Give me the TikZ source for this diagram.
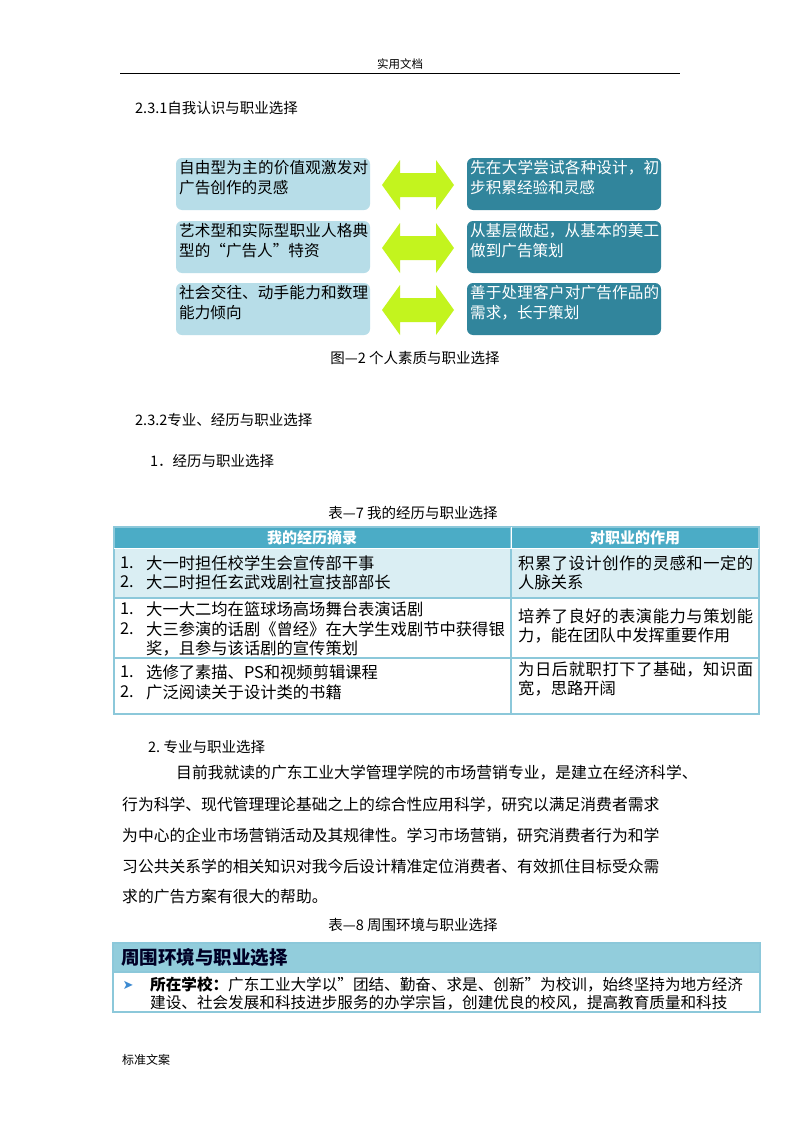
\documentclass[tikz,border=0pt]{standalone}
\usepackage{fontspec}
\setmainfont{Noto Sans CJK SC}
\newfontfamily\symf{DejaVu Sans}
\XeTeXlinebreaklocale "zh"
\XeTeXlinebreakskip=0pt plus 1pt
\definecolor{lb}{HTML}{B7DDE8}
\definecolor{teal}{HTML}{31859C}
\definecolor{lime}{HTML}{C3F41E}
\definecolor{hd}{HTML}{4BACC6}
\definecolor{r1}{HTML}{DAEEF3}
\definecolor{bd}{HTML}{8CC8DA}
\definecolor{h2}{HTML}{92CDDC}
\begin{document}
\begin{tikzpicture}[x=1pt,y=-1pt,
  txt/.style={inner sep=0pt,anchor=west,font=\fontsize{14.5}{16}\selectfont},
  lbox/.style={fill=lb,rounded corners=6pt},
  rbox/.style={fill=teal,rounded corners=6pt},
  btxt/.style={inner sep=0pt,anchor=north west,text width=189pt,align=justify,font=\fontsize{15.6}{20}\selectfont},
  cell/.style={inner sep=0pt,anchor=west,font=\fontsize{16.3}{19}\selectfont},
  rcell/.style={inner sep=0pt,anchor=north west,text width=235pt,align=justify,font=\fontsize{16.3}{19}\selectfont},
  para/.style={inner sep=0pt,anchor=west,font=\fontsize{15.8}{18}\selectfont}]
\useasboundingbox (0,0) rectangle (800,1132);
\fill[white] (0,0) rectangle (800,1132);
% header
\node[inner sep=0pt,font=\fontsize{11.5}{13}\selectfont] (hdr) at (400,64) {实用文档};
\draw[line width=0.8pt] (120,73) coordinate (hl) -- (680,73) coordinate (hr);
\node[txt] (s231) at (135,108) {2.3.1自我认识与职业选择};
% boxes
\foreach \y/\l/\r [count=\i] in {158/{自由型为主的价值观激发对广告创作的灵感}/{先在大学尝试各种设计，初步积累经验和灵感},221/{艺术型和实际型职业人格典型的“广告人”特资}/{从基层做起，从基本的美工做到广告策划},283/{社会交往、动手能力和数理能力倾向}/{善于处理客户对广告作品的需求，长于策划}}{
  \fill[lbox] (176,\y) rectangle (370,\y+52);
  \fill[rbox] (467,\y) rectangle (661,\y+52);
  \node[btxt] (L\i) at (179,\y+2) {\l};
  \node[btxt,text=white] (R\i) at (470,\y+2) {\r};
  \fill[lime] (382,\y+27) -- (400,\y+2) -- (400,\y+15) -- (436,\y+15) -- (436,\y+2) -- (454,\y+27) -- (436,\y+52) -- (436,\y+39) -- (400,\y+39) -- (400,\y+52) -- cycle;
}
\node[inner sep=0pt,font=\fontsize{14.5}{16}\selectfont] (cap2) at (415,358) {图—2 个人素质与职业选择};
\node[txt] (s232) at (135,420) {2.3.2专业、经历与职业选择};
\node[txt] (s1) at (150,461) {1．经历与职业选择};
\node[inner sep=0pt,font=\fontsize{14.5}{16}\selectfont] (cap7) at (413,513) {表—7 我的经历与职业选择};
% table 7
\fill[hd] (114,527) rectangle (759,548);
\fill[r1] (114,548) rectangle (759,598);
\draw[bd,line width=1.2pt] (114,527) rectangle (759,714);
\draw[bd,line width=1.2pt] (114,598) -- (759,598) (114,658) -- (759,658) (511,527) -- (511,714);
\draw[white,line width=1pt] (114,548) -- (759,548) (511,527) -- (511,548);
\node[inner sep=0pt,text=white,font=\bfseries\fontsize{15}{16}\selectfont] (th1) at (312,538) {我的经历摘录};
\node[inner sep=0pt,text=white,font=\bfseries\fontsize{15}{16}\selectfont] (th2) at (635,538) {对职业的作用};
\node[cell] at (120,563) {1.};\node[cell] at (146,563) {大一时担任校学生会宣传部干事};
\node[cell] at (120,582) {2.};\node[cell] at (146,582) {大二时担任玄武戏剧社宣技部部长};
\node[rcell] at (518,555) {积累了设计创作的灵感和一定的人脉关系};
\node[cell] at (120,609) {1.};\node[cell] at (146,609) {大一大二均在篮球场高场舞台表演话剧};
\node[cell] at (120,629) {2.};\node[cell] at (146,629) {大三参演的话剧《曾经》在大学生戏剧节中获得银};
\node[cell] at (146,648) {奖，且参与该话剧的宣传策划};
\node[rcell] at (518,608) {培养了良好的表演能力与策划能力，能在团队中发挥重要作用};
\node[cell] at (120,672) {1.};\node[cell] at (146,672) {选修了素描、PS和视频剪辑课程};
\node[cell] at (120,692) {2.};\node[cell] at (146,692) {广泛阅读关于设计类的书籍};
\node[rcell] at (518,662) {为日后就职打下了基础，知识面宽，思路开阔};
% section 2
\node[txt] (s2) at (148,747) {2.\ 专业与职业选择};
\node[para] at (176,773) {目前我就读的广东工业大学管理学院的市场营销专业，是建立在经济科学、};
\node[para] at (122,805) {行为科学、现代管理理论基础之上的综合性应用科学，研究以满足消费者需求};
\node[para] at (122,836) {为中心的企业市场营销活动及其规律性。学习市场营销，研究消费者行为和学};
\node[para] at (122,866) {习公共关系学的相关知识对我今后设计精准定位消费者、有效抓住目标受众需};
\node[para] at (122,897) {求的广告方案有很大的帮助。};
\node[inner sep=0pt,font=\fontsize{14.5}{16}\selectfont] (cap8) at (413,925) {表—8 周围环境与职业选择};
% table 8
\fill[h2] (113,943) rectangle (760,972);
\draw[bd,line width=1.2pt] (113,943) rectangle (760,1012) (113,972) -- (760,972);
\node[inner sep=0pt,anchor=west,text=black!85!blue,font=\bfseries\fontsize{18.5}{20}\selectfont] (t8) at (121,958) {周围环境与职业选择};
\node[inner sep=0pt,text=hd!80!blue,font=\symf\fontsize{13}{14}\selectfont] (ar) at (128,985) {➤};
\node[cell,font=\fontsize{15.6}{18}\selectfont] at (150,985) {\textbf{所在学校：}广东工业大学以"团结、勤奋、求是、创新"为校训，始终坚持为地方经济};
\node[cell,font=\fontsize{15.6}{18}\selectfont] at (150,1003) {建设、社会发展和科技进步服务的办学宗旨，创建优良的校风，提高教育质量和科技};
\node[inner sep=0pt,anchor=west,font=\fontsize{12}{13}\selectfont] (ftr) at (122,1060) {标准文案};
\end{tikzpicture}
\end{document}
